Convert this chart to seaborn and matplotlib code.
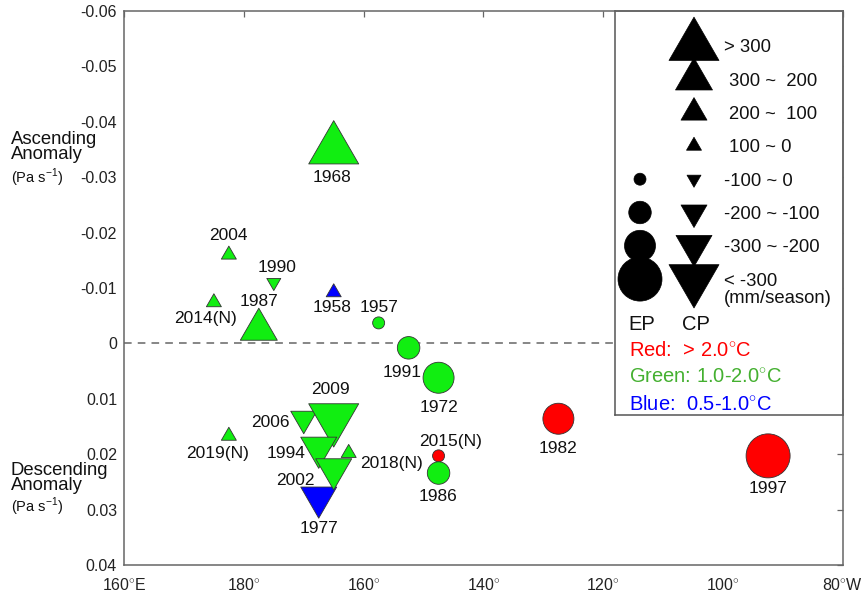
import numpy as np
import pandas as pd
import matplotlib
matplotlib.use("Agg")
import matplotlib.pyplot as plt
from matplotlib.path import Path
import seaborn as sns

# ---- event data -------------------------------------------------------------
years = ["1968", "2004", "1990", "2014(N)", "1987", "1958", "1957", "1991",
         "1972", "1982", "2015(N)", "1986", "1997", "1977", "2006", "2009",
         "1994", "2002", "2018(N)", "2019(N)"]
# longitude of the centre (degrees east)
lon = [195.0, 177.5, 185.0, 175.0, 182.5, 195.0, 202.5, 207.5,
       212.5, 232.5, 212.5, 212.5, 267.5, 192.5, 190.0, 195.0,
       192.5, 195.0, 197.5, 177.5]
# vertical velocity anomaly (Pa s-1)
omega = [-0.035, -0.016, -0.011, -0.0074, -0.0025, -0.0092, -0.0037, 0.0008,
         0.0062, 0.0136, 0.0203, 0.0234, 0.0203, 0.0278, 0.0136, 0.0135,
         0.0188, 0.0227, 0.0198, 0.0167]
enso_type = ["CP", "CP", "CP", "CP", "CP", "CP", "EP", "EP",
             "EP", "EP", "EP", "EP", "EP", "CP", "CP", "CP",
             "CP", "CP", "CP", "CP"]
rain_class = ["> 300", "100 ~ 0", "-100 ~ 0", "100 ~ 0", "300 ~  200", "100 ~ 0",
              "-100 ~ 0", "-200 ~ -100", "-300 ~ -200", "-300 ~ -200", "-100 ~ 0",
              "-200 ~ -100", "< -300", "-300 ~ -200", "-200 ~ -100", "< -300",
              "-300 ~ -200", "-300 ~ -200", "100 ~ 0", "100 ~ 0"]
warming = ["Green", "Green", "Green", "Green", "Green", "Blue", "Green", "Green",
           "Green", "Red", "Red", "Green", "Red", "Blue", "Green", "Green",
           "Green", "Green", "Green", "Green"]

# legend categories
legend_classes = ["> 300", "300 ~  200", "200 ~  100", "100 ~ 0",
                  "-100 ~ 0", "-200 ~ -100", "-300 ~ -200", "< -300"]
warming_labels = ["Red:  > 2.0$^{\\circ}$C", "Green: 1.0-2.0$^{\\circ}$C",
                  "Blue:  0.5-1.0$^{\\circ}$C"]

# axis ticks
xticks = [160, 180, 200, 220, 240, 260, 280]
xticklabels = ["160$^{\\circ}$E", "180$^{\\circ}$", "160$^{\\circ}$", "140$^{\\circ}$",
               "120$^{\\circ}$", "100$^{\\circ}$", "80$^{\\circ}$W"]
yticks = [-0.06, -0.05, -0.04, -0.03, -0.02, -0.01, 0, 0.01, 0.02, 0.03, 0.04]
yticklabels = ["-0.06", "-0.05", "-0.04", "-0.03", "-0.02", "-0.01", "0",
               "0.01", "0.02", "0.03", "0.04"]

# ---- styling ------------------------------------------------------------------
sns.set_theme(style="white")
plt.rcParams["font.family"] = ["Liberation Sans", "DejaVu Sans"]
plt.rcParams["mathtext.fontset"] = "custom"
plt.rcParams["mathtext.rm"] = "Liberation Sans"

DPI = 100
PT = 72.0 / DPI            # points per pixel

marker_colors = {"Red": "#ff0000", "Green": "#11ee11", "Blue": "#0000ff"}
text_colors = {"Red": "#ff0000", "Green": "#44b030", "Blue": "#0000ff"}

# equilateral triangles centred on their centroid
h = np.sqrt(3) / 2
tri_up = Path([(0, 2 * h / 3), (-0.5, -h / 3), (0.5, -h / 3), (0, 2 * h / 3)],
              [Path.MOVETO, Path.LINETO, Path.LINETO, Path.CLOSEPOLY])
tri_down = Path([(0, -2 * h / 3), (-0.5, h / 3), (0.5, h / 3), (0, -2 * h / 3)],
                [Path.MOVETO, Path.LINETO, Path.LINETO, Path.CLOSEPOLY])
shape_markers = {"EP": "o", "CP+": tri_up, "CP-": tri_down}

# marker width in pixels for each rainfall class
tri_width = {"> 300": 50, "300 ~  200": 37, "200 ~  100": 26, "100 ~ 0": 15,
             "-100 ~ 0": 14, "-200 ~ -100": 26, "-300 ~ -200": 36, "< -300": 50}
circ_width = {"-100 ~ 0": 12, "-200 ~ -100": 22.5, "-300 ~ -200": 31, "< -300": 44}


def tri_area(w_px):
    return (w_px * PT / h) ** 2


def circ_area(d_px):
    return (d_px * PT) ** 2


def shape_of(t, c):
    if t == "EP":
        return "EP"
    return "CP-" if c.strip().startswith(("-", "<")) else "CP+"


df = pd.DataFrame({"year": years, "lon": lon, "omega": omega,
                   "type": enso_type, "rain": rain_class, "warming": warming})
df["shape"] = [shape_of(t, c) for t, c in zip(df["type"], df["rain"])]
df["size_key"] = df["shape"] + "|" + df["rain"]

size_lookup = {}
for k in df["size_key"].unique():
    s, c = k.split("|")
    size_lookup[k] = circ_area(circ_width[c]) if s == "EP" else tri_area(tri_width[c])

# label offsets (points) from each marker
label_offset = {
    "1968": (-1.4, -18.9), "2004": (0, 14.6), "1990": (2.2, 11.5),
    "2014(N)": (-5.8, -10.6), "1987": (0, 21.4), "1958": (-1.4, -9.6),
    "1957": (0, 12.2), "1991": (-5, -16.6), "1972": (0, -20.2),
    "1982": (0, -20.2), "2015(N)": (8.6, 11.5), "1986": (-0.7, -15.8),
    "1997": (0, -22.3), "1977": (0, -21.4), "2006": (-23.8, -1.4),
    "2009": (-2.2, 21.6), "1994": (-23.8, -3.1), "2002": (-27.4, -7.2),
    "2018(N)": (31, -6.3), "2019(N)": (-7.9, -11.5),
}

# ---- figure -------------------------------------------------------------------
fig = plt.figure(figsize=(8.64, 5.97), dpi=DPI)
ax = fig.add_axes([124 / 864, 32 / 597, 719 / 864, 554 / 597])

sns.scatterplot(data=df, x="lon", y="omega", hue="warming", palette=marker_colors,
                style="shape", markers=shape_markers, size="size_key",
                sizes=size_lookup, edgecolor="#333333", linewidth=0.6,
                legend=False, ax=ax, zorder=3)

for _, r in df.iterrows():
    ax.annotate(r["year"], (r["lon"], r["omega"]), xytext=label_offset[r["year"]],
                textcoords="offset points", ha="center", va="center_baseline",
                fontsize=12.5, color="#111111", zorder=4)

ax.set_xlim(160, 280)
ax.set_ylim(0.04, -0.06)
ax.set_xticks(xticks)
ax.set_xticklabels(xticklabels)
ax.set_yticks(yticks)
ax.set_yticklabels(yticklabels)
ax.set_xlabel("")
ax.set_ylabel("")
ax.tick_params(direction="in", length=4, width=0.9, color="#666666",
               labelsize=11.5, labelcolor="#222222", top=True, right=True)
ax.tick_params(axis="x", pad=9)
ax.tick_params(axis="y", pad=5)
for sp in ax.spines.values():
    sp.set_color("#666666")
    sp.set_linewidth(1.1)

ax.axhline(0, color="#666666", lw=1.1, ls=(0, (5, 4)), zorder=0.8)

# y axis annotations
fig.text(11 / 864, 1 - 147 / 597, "Ascending\nAnomaly", fontsize=13.3,
         ha="left", va="center", linespacing=0.85, color="#111111")
fig.text(11 / 864, 1 - 178 / 597, "(Pa s$^{-1}$)", fontsize=10.5,
         ha="left", va="center", color="#111111")
fig.text(11 / 864, 1 - 478 / 597, "Descending\nAnomaly", fontsize=13.3,
         ha="left", va="center", linespacing=0.85, color="#111111")
fig.text(11 / 864, 1 - 507 / 597, "(Pa s$^{-1}$)", fontsize=10.5,
         ha="left", va="center", color="#111111")

# ---- legend panel -------------------------------------------------------------
lg = ax.inset_axes([491 / 719, 150 / 554, 228 / 719, 404 / 554], zorder=1.2)
lg.set_xlim(0, 228)
lg.set_ylim(404, 0)
lg.set_xticks([])
lg.set_yticks([])
lg.set_facecolor("white")
for sp in lg.spines.values():
    sp.set_color("#555555")
    sp.set_linewidth(1.1)

row_y = 35 + 33.3 * np.arange(len(legend_classes))
leg = pd.DataFrame({"cls": legend_classes, "y": row_y})
leg["shape"] = ["CP+"] * 4 + ["CP-"] * 4
leg["x"] = 79
leg["s"] = [tri_area(tri_width[c]) for c in leg["cls"]]
sns.scatterplot(data=leg, x="x", y="y", style="shape", markers=shape_markers,
                size="cls", sizes=dict(zip(leg["cls"], leg["s"])), color="black",
                edgecolor="black", linewidth=0.5, legend=False, ax=lg)

ep_leg = leg[leg["shape"] == "CP-"].copy()
ep_leg["x"] = 25
ep_leg["s"] = [circ_area(circ_width[c]) for c in ep_leg["cls"]]
sns.scatterplot(data=ep_leg, x="x", y="y", marker="o", size="cls",
                sizes=dict(zip(ep_leg["cls"], ep_leg["s"])), color="black",
                edgecolor="black", linewidth=0.5, legend=False, ax=lg)

for c, y in zip(legend_classes, row_y):
    x = 109 if c.startswith((">", "-", "<")) else 114
    lg.text(x, y, c, fontsize=13.3, ha="left", va="center_baseline", color="#111111")
lg.text(109, row_y[-1] + 17, "(mm/season)", fontsize=13.3, ha="left",
        va="center_baseline", color="#111111")
lg.set_xlabel("")
lg.set_ylabel("")

lg.text(27, 312, "EP", fontsize=14.5, ha="center", va="center_baseline", color="#111111")
lg.text(81, 312, "CP", fontsize=14.5, ha="center", va="center_baseline", color="#111111")
for i, (lab, key) in enumerate(zip(warming_labels, ["Red", "Green", "Blue"])):
    lg.text(14, 337 + 27 * i, lab, fontsize=14.5, ha="left", va="center_baseline",
            color=text_colors[key])

fig.savefig("out.png", dpi=DPI)
